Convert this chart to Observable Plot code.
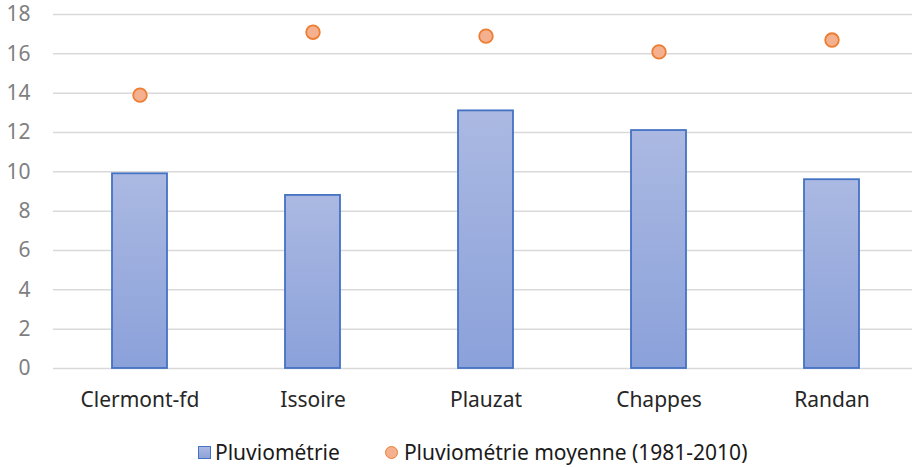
<!DOCTYPE html>
<html>
<head>
<meta charset="utf-8">
<script src="https://cdn.jsdelivr.net/npm/d3@7"></script>
<script src="https://cdn.jsdelivr.net/npm/@observablehq/plot@0.6"></script>
<style>
  html, body { margin: 0; padding: 0; background: #fff; }
  body { width: 912px; height: 467px; overflow: hidden; position: relative; font-family: "Noto Sans", sans-serif; }
  #legend { position: absolute; left: 198px; top: 439px; height: 26px; display: flex; align-items: center; gap: 45px; font-size: 21px; color: #1a1a1a; white-space: nowrap; }
  .item { display: flex; align-items: center; }
  .sq { width: 11px; height: 11px; border: 1.5px solid #4472c4; background: linear-gradient(#abb9e2, #8ea3da); margin-right: 4px; }
  .ci { width: 11px; height: 11px; border-radius: 50%; border: 1.5px solid #ed7d31; background: #f5b18f; margin-right: 6px; }
</style>
</head>
<body>
<div id="chart"></div>
<div id="legend">
  <div class="item"><div class="sq"></div><span>Pluviométrie</span></div>
  <div class="item"><div class="ci"></div><span>Pluviométrie moyenne (1981-2010)</span></div>
</div>
<script>
const categories = ["Clermont-fd", "Issoire", "Plauzat", "Chappes", "Randan"];
const pluviometrie = [9.9, 8.8, 13.1, 12.1, 9.6];
const moyenne = [13.9, 17.1, 16.9, 16.1, 16.7];
const yTicks = [0, 2, 4, 6, 8, 10, 12, 14, 16, 18];

const data = categories.map((c, i) => ({cat: c, pluvio: pluviometrie[i], moy: moyenne[i]}));

const chart = Plot.plot({
  width: 912,
  height: 420,
  marginTop: 14,
  marginBottom: 52,
  marginLeft: 53,
  marginRight: 0,
  style: {fontFamily: "Noto Sans, sans-serif", fontSize: "21px", background: "white"},
  x: {domain: categories, range: [53.5, 918.5], paddingInner: 0.68, paddingOuter: 0.34, label: null},
  y: {domain: [0, 18], ticks: yTicks, label: null},
  marks: [
    Plot.gridY(yTicks, {stroke: "#d9d9d9", strokeOpacity: 1, strokeWidth: 1.5}),
    Plot.axisY({ticks: yTicks, tickSize: 0, tickPadding: 23, fill: "#7f7f7f", label: null, fontSize: 21}),
    Plot.axisX({tickSize: 0, tickPadding: 24, fill: "#262626", label: null, fontSize: 21}),
    Plot.barY(data, {x: "cat", y: "pluvio", fill: "url(#barGrad)", stroke: "#4472c4", strokeWidth: 1.8}),
    Plot.dot(data, {x: "cat", y: "moy", r: 6.8, fill: "#f5b18f", stroke: "#ed7d31", strokeWidth: 1.8})
  ]
});

const svgNS = "http://www.w3.org/2000/svg";
const defs = document.createElementNS(svgNS, "defs");
defs.innerHTML = '<linearGradient id="barGrad" x1="0" y1="0" x2="0" y2="1"><stop offset="0%" stop-color="#abb9e2"/><stop offset="100%" stop-color="#8ba1da"/></linearGradient>';
chart.insertBefore(defs, chart.firstChild);
document.getElementById("chart").appendChild(chart);
</script>
</body>
</html>
